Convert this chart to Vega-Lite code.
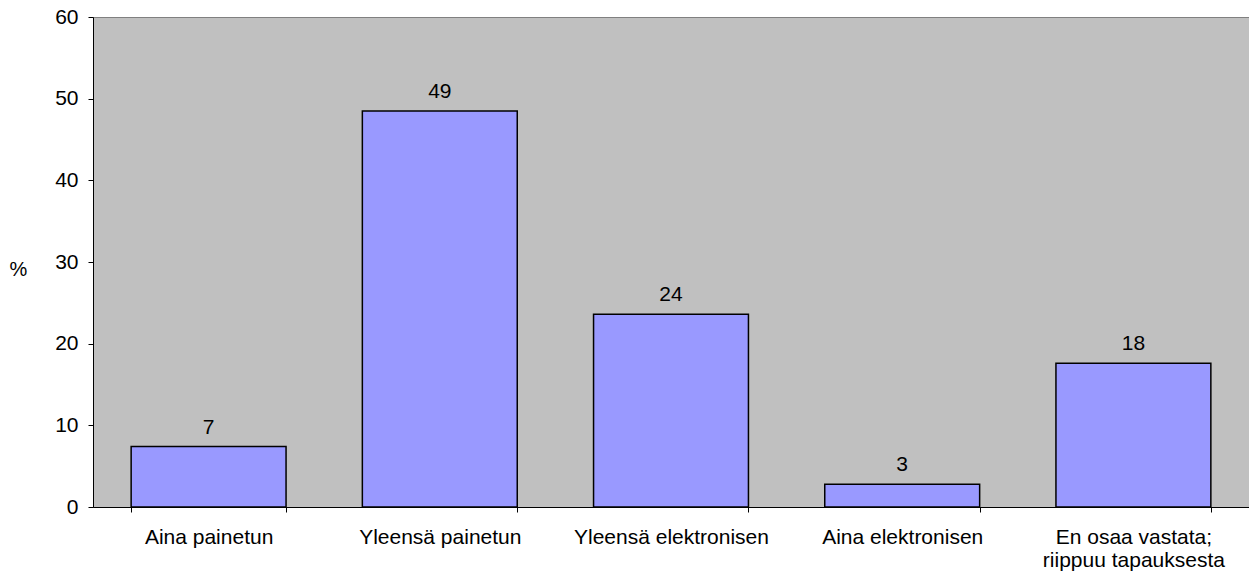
{
  "$schema": "https://vega.github.io/schema/vega-lite/v6.json",
  "autosize": "none",
  "width": 1156,
  "height": 490,
  "padding": {"left": 93, "top": 17, "right": 0, "bottom": 69},
  "background": "white",
  "config": {
    "font": "Liberation Sans",
    "view": {"fill": "#C0C0C0", "stroke": "#808080", "strokeWidth": 1}
  },
  "data": {
    "values": [
      {"vastaus": "Aina painetun", "prosentti": 7.4, "label": "7"},
      {"vastaus": "Yleensä painetun", "prosentti": 48.5, "label": "49"},
      {"vastaus": "Yleensä elektronisen", "prosentti": 23.6, "label": "24"},
      {"vastaus": "Aina elektronisen", "prosentti": 2.8, "label": "3"},
      {"vastaus": "En osaa vastata; riippuu tapauksesta", "prosentti": 17.6, "label": "18"}
    ]
  },
  "encoding": {
    "x": {
      "field": "vastaus",
      "type": "nominal",
      "sort": null,
      "scale": {"paddingInner": 0.33, "paddingOuter": 0.165},
      "axis": {
        "title": null,
        "labelAngle": 0,
        "labelFontSize": 21,
        "labelColor": "black",
        "labelPadding": 14,
        "labelLimit": 0,
        "labelLineHeight": 23,
        "labelExpr": "datum.value == 'En osaa vastata; riippuu tapauksesta' ? ['En osaa vastata;', 'riippuu tapauksesta'] : datum.value",
        "tickBand": "extent",
        "tickSize": 5,
        "tickColor": "black",
        "domainColor": "black",
        "domainWidth": 1
      }
    },
    "y": {
      "field": "prosentti",
      "type": "quantitative",
      "scale": {"domain": [0, 60], "nice": false},
      "axis": {
        "values": [0, 10, 20, 30, 40, 50, 60],
        "grid": false,
        "title": "%",
        "titleAngle": 0,
        "titleFontSize": 20,
        "titleFontWeight": "normal",
        "titleColor": "black",
        "titleX": -75,
        "titleY": 252,
        "titleAlign": "center",
        "titleBaseline": "middle",
        "labelFontSize": 21,
        "labelColor": "black",
        "labelPadding": 10,
        "tickSize": 5,
        "tickColor": "black",
        "domainColor": "black"
      }
    }
  },
  "layer": [
    {
      "mark": {"type": "bar", "fill": "#9999FF", "stroke": "black", "strokeWidth": 1.5}
    },
    {
      "mark": {"type": "text", "baseline": "alphabetic", "dy": -13, "fontSize": 21, "color": "black"},
      "encoding": {"text": {"field": "label"}}
    }
  ]
}
